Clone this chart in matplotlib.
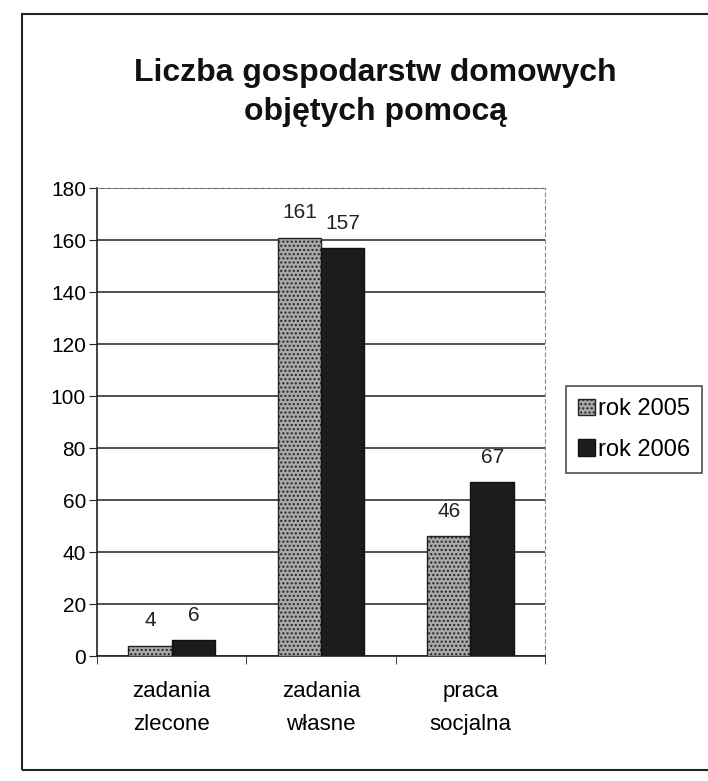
import matplotlib.pyplot as plt
import numpy as np
from matplotlib.patches import Rectangle

plt.rcParams['font.family'] = ['Liberation Sans', 'DejaVu Sans']
plt.rcParams['hatch.color'] = '#555555'

categories = ['zadania\nzlecone', 'zadania\nwłasne', 'praca\nsocjalna']
series = ['rok 2005', 'rok 2006']
values_2005 = [4, 161, 46]
values_2006 = [6, 157, 67]
yticks = [0, 20, 40, 60, 80, 100, 120, 140, 160, 180]

fig = plt.figure(figsize=(7.08, 7.81), dpi=100)
ax = fig.add_axes([0.137, 0.160, 0.633, 0.599])

x = np.arange(len(categories))
w = 0.29
b1 = ax.bar(x - w / 2, values_2005, w, color='#a9a9a9', edgecolor='#222222',
            linewidth=1, hatch='....', label=series[0], zorder=3)
b2 = ax.bar(x + w / 2, values_2006, w, color='#1c1c1c', edgecolor='#111111',
            linewidth=1, label=series[1], zorder=3)
for bars in (b1, b2):
    for r in bars:
        ax.annotate(str(int(r.get_height())),
                    (r.get_x() + r.get_width() / 2, r.get_height()),
                    xytext=(0, 11), textcoords='offset points',
                    ha='center', va='bottom', fontsize=15, color='#222222')

ax.set_xlim(-0.5, 2.5)
ax.set_ylim(0, 180)
ax.set_yticks(yticks)
ax.set_yticklabels([str(v) for v in yticks], fontsize=15)
ax.yaxis.grid(True, color='#222222', linewidth=1.1, zorder=0)
ax.set_xticks(x)
ax.set_xticklabels(categories, fontsize=16, linespacing=1.75)
ax.tick_params(axis='x', length=0, pad=18)
ax.set_xticks([-0.5, 0.5, 1.5, 2.5], minor=True)
ax.tick_params(axis='x', which='minor', length=6, color='#222222')
ax.tick_params(axis='y', length=6, color='#222222', pad=2)

ax.spines['left'].set_color('#222222')
ax.spines['bottom'].set_color('#222222')
ax.spines['left'].set_linewidth(1.2)
ax.spines['bottom'].set_linewidth(1.2)
for s in ('top', 'right'):
    ax.spines[s].set_linestyle((0, (3, 3)))
    ax.spines[s].set_color('#888888')

fig.text(0.53, 0.907, 'Liczba gospodarstw domowych', ha='center', va='center',
         fontsize=23, fontweight='bold', color='#111111')
fig.text(0.53, 0.857, 'objętych pomocą', ha='center', va='center',
         fontsize=23, fontweight='bold', color='#111111')

leg = fig.legend(handles=[b1, b2], labels=series, loc='center',
                 bbox_to_anchor=(0.896, 0.45), fontsize=17, frameon=True,
                 fancybox=False, edgecolor='#222222', handlelength=0.7,
                 handleheight=0.7, handletextpad=0.15, labelspacing=0.8,
                 borderpad=0.5, borderaxespad=0)
leg.get_frame().set_linewidth(1.2)

fig.patches.append(Rectangle((22 / 708, 1 - 770 / 781), 700 / 708, 756 / 781,
                             transform=fig.transFigure, fill=False,
                             edgecolor='#222222', linewidth=1.5))

fig.savefig('out.png', dpi=100)
